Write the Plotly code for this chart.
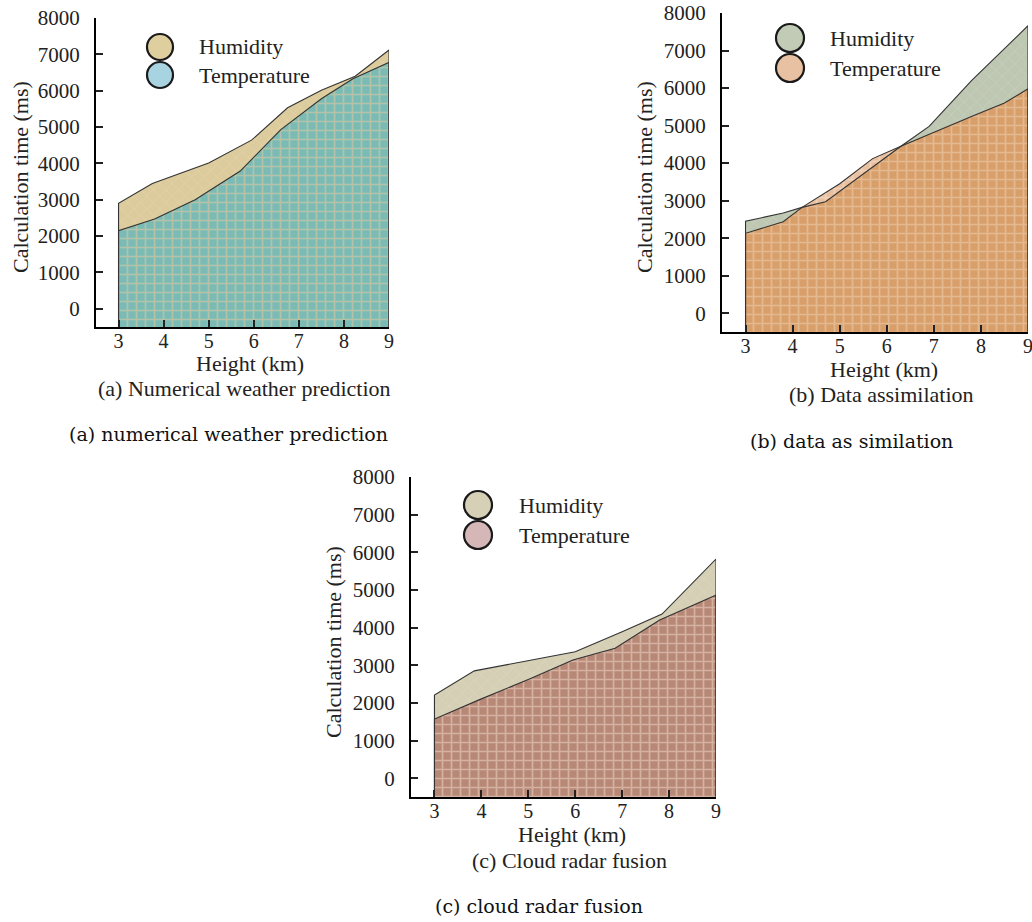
import numpy as np
import plotly.graph_objects as go

W, H = 1032, 922
YMIN, YMAX = -500, 8000
XMIN, XMAX = 2.5, 9

# ---------------- data ----------------
# (a) Numerical weather prediction
HEIGHT_A_HUM = [3, 3.75, 5.0, 5.95, 6.75, 7.5, 8.25, 9]
CT_A_HUM = [2900, 3450, 4010, 4640, 5530, 6010, 6400, 7120]
HEIGHT_A_TEMP = [3, 3.8, 4.7, 5.7, 6.6, 7.5, 8.2, 9]
CT_A_TEMP = [2150, 2470, 3000, 3790, 4930, 5780, 6330, 6780]

# (b) Data assimilation
HEIGHT_B_HUM = [3, 3.8, 4.2, 4.7, 6.3, 6.9, 7.8, 9]
CT_B_HUM = [2450, 2670, 2820, 2970, 4450, 4980, 6200, 7660]
HEIGHT_B_TEMP = [3, 3.8, 4.2, 5.0, 5.7, 6.3, 7.0, 7.85, 8.5, 9]
CT_B_TEMP = [2130, 2440, 2820, 3450, 4120, 4450, 4830, 5270, 5600, 5980]

# (c) Cloud radar fusion
HEIGHT_C_HUM = [3, 3.85, 5.05, 6.0, 7.0, 7.85, 9]
CT_C_HUM = [2210, 2850, 3140, 3360, 3890, 4360, 5820]
HEIGHT_C_TEMP = [3, 3.95, 5.05, 5.95, 6.85, 7.8, 9]
CT_C_TEMP = [1570, 2080, 2650, 3140, 3450, 4200, 4860]

X_TICKS = [3, 4, 5, 6, 7, 8, 9]
Y_TICKS = [0, 1000, 2000, 3000, 4000, 5000, 6000, 7000, 8000]
SERIES = ["Humidity", "Temperature"]
SUBTITLES = ["(a) Numerical weather prediction", "(b) Data assimilation", "(c) Cloud radar fusion"]
CAPTIONS = ["(a) numerical weather prediction", "(b) data as similation", "(c) cloud radar fusion"]

# ---------------- styling ----------------
PANELS = [
    dict(xh=HEIGHT_A_HUM, yh=CT_A_HUM, xt=HEIGHT_A_TEMP, yt=CT_A_TEMP,
         hum=("#dccb9c", "#ebdfb8"), temp=("#a9d3df", "#e4eeee"), both=("#7abbb6", "#edcb98"),
         leg_h="#dfcf9f", leg_t="#a8d3e0",
         dom_px=(96, 389, 18, 327)),
    dict(xh=HEIGHT_B_HUM, yh=CT_B_HUM, xt=HEIGHT_B_TEMP, yt=CT_B_TEMP,
         hum=("#bec7b2", "#d6ddce"), temp=("#e9c0a0", "#f8e4d4"), both=("#d89f6b", "#f0d4b4"),
         leg_h="#c2cbb6", leg_t="#e8c0a2",
         dom_px=(722, 1028, 13, 332)),
    dict(xh=HEIGHT_C_HUM, yh=CT_C_HUM, xt=HEIGHT_C_TEMP, yt=CT_C_TEMP,
         hum=("#d5cfb5", "#e5e0ce"), temp=("#d8b9b8", "#f2e6e5"), both=("#b88877", "#f0dacc"),
         leg_h="#d6d0b7", leg_t="#d6b7b7",
         dom_px=(411, 716, 477, 797)),
]

SERIF = "Liberation Serif, Times New Roman, serif"
LINE_C = "#333333"


def overlap(xh, yh, xt, yt):
    xs = sorted(set(xh) | set(xt))
    h = np.interp(xs, xh, yh)
    t = np.interp(xs, xt, yt)
    ox, oy = [], []
    for i in range(len(xs)):
        if i > 0:
            d0 = h[i - 1] - t[i - 1]
            d1 = h[i] - t[i]
            if d0 * d1 < 0:
                f = d0 / (d0 - d1)
                ox.append(xs[i - 1] + f * (xs[i] - xs[i - 1]))
                oy.append(h[i - 1] + f * (h[i] - h[i - 1]))
        ox.append(xs[i])
        oy.append(min(h[i], t[i]))
    return ox, oy


def closed(x, y):
    x = list(x)
    y = list(y)
    return [x[0]] + x + [x[-1]], [YMIN] + y + [YMIN]


fig = go.Figure()

for i, p in enumerate(PANELS):
    xa = "x" if i == 0 else f"x{i+1}"
    ya = "y" if i == 0 else f"y{i+1}"
    cx, cy = closed(p["xh"], p["yh"])
    fig.add_trace(go.Scatter(x=cx, y=cy, xaxis=xa, yaxis=ya, mode="none", fill="toself",
                             fillcolor=p["hum"][0], name=SERIES[0], showlegend=False,
                             fillpattern=dict(shape="x", size=9, solidity=0.14,
                                              bgcolor=p["hum"][0], fgcolor=p["hum"][1])))
    cx, cy = closed(p["xt"], p["yt"])
    fig.add_trace(go.Scatter(x=cx, y=cy, xaxis=xa, yaxis=ya, mode="none", fill="toself",
                             fillcolor=p["temp"][0], name=SERIES[1], showlegend=False,
                             fillpattern=dict(shape="+", size=9, solidity=0.34,
                                              bgcolor=p["temp"][0], fgcolor=p["temp"][1])))
    ox, oy = overlap(p["xh"], p["yh"], p["xt"], p["yt"])
    cx, cy = closed(ox, oy)
    fig.add_trace(go.Scatter(x=cx, y=cy, xaxis=xa, yaxis=ya, mode="none", fill="toself",
                             fillcolor=p["both"][0], showlegend=False, hoverinfo="skip",
                             fillpattern=dict(shape="+", size=9, solidity=0.34,
                                              bgcolor=p["both"][0], fgcolor=p["both"][1])))
    for xs, ys, nm in ((p["xh"], p["yh"], SERIES[0]), (p["xt"], p["yt"], SERIES[1])):
        cx, cy = closed(xs, ys)
        fig.add_trace(go.Scatter(x=cx, y=cy, xaxis=xa, yaxis=ya, mode="lines",
                                 line=dict(color=LINE_C, width=1.1), name=nm, showlegend=False))

    x0, x1, y0, y1 = p["dom_px"]
    axis_common = dict(showgrid=False, zeroline=False, showline=True, linecolor="black",
                       linewidth=2, ticks="inside", ticklen=7, tickwidth=1.5, tickcolor="#222",
                       mirror=False, automargin=False, ticklabeloverflow="allow")
    fig.layout[("xaxis" if i == 0 else f"xaxis{i+1}")] = dict(
        domain=[x0 / W, x1 / W], anchor=ya, range=[XMIN, XMAX], tickvals=X_TICKS,
        ticklabelstandoff=-5, tickfont=dict(family=SERIF, size=20, color="#222"), **axis_common)
    fig.layout[("yaxis" if i == 0 else f"yaxis{i+1}")] = dict(
        domain=[1 - y1 / H, 1 - y0 / H], anchor=xa, range=[YMIN, YMAX], tickvals=Y_TICKS,
        ticklabelstandoff=10, tickfont=dict(family=SERIF, size=21, color="#222"), **axis_common)

TEXT = [
    dict(yt=(20, 177), xt=(250, 363), st=(244, 388), cap=(228, 434), lx=160, ly=(47, 75), tx=197, r=13),
    dict(yt=(644, 177), xt=(884, 369), st=(881, 395), cap=(851, 441), lx=790, ly=(38, 68), tx=828, r=14),
    dict(yt=(333, 642), xt=(572, 834), st=(569, 860), cap=(539, 906), lx=478, ly=(505, 535), tx=517, r=14),
]

ann = []
shapes = []


def A(text, px, py, size=22, family=SERIF, angle=0, xanchor="center", color="#222"):
    return dict(text=text, x=px / W, y=1 - py / H, xref="paper", yref="paper",
                textangle=angle, showarrow=False, xanchor=xanchor, yanchor="middle",
                font=dict(family=family, size=size, color=color))


for i, t in enumerate(TEXT):
    p = PANELS[i]
    ann.append(A("Calculation time (ms)", *t["yt"], angle=-90))
    ann.append(A("Height (km)", *t["xt"]))
    ann.append(A(SUBTITLES[i], *t["st"]))
    ann.append(A(CAPTIONS[i], *t["cap"], size=19, family="DejaVu Serif, serif", color="#111"))
    for k, (nm, col) in enumerate(zip(SERIES, (p["leg_h"], p["leg_t"]))):
        cx, cy, r = t["lx"], t["ly"][k], t["r"]
        shapes.append(dict(type="circle", xref="paper", yref="paper",
                           x0=(cx - r) / W, x1=(cx + r) / W, y0=1 - (cy + r) / H, y1=1 - (cy - r) / H,
                           fillcolor=col, line=dict(color="#1a1a1a", width=2.2)))
        ann.append(A(nm, t["tx"], cy, xanchor="left"))

fig.update_layout(width=W, height=H, margin=dict(l=0, r=0, t=0, b=0, autoexpand=False),
                  paper_bgcolor="white", plot_bgcolor="white", showlegend=False,
                  annotations=ann, shapes=shapes)

fig.write_html(
    "out.html", config={"displayModeBar": False},
    post_script="document.body.style.margin='0';document.body.style.overflow='hidden';")
